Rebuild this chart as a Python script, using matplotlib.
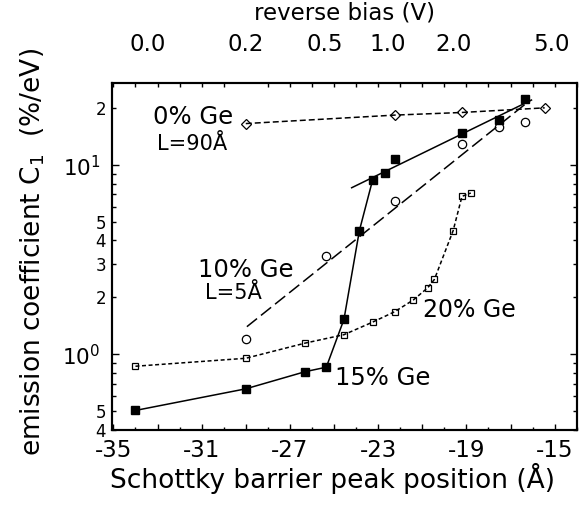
import matplotlib
matplotlib.use("Agg")
import matplotlib.pyplot as plt
from matplotlib.ticker import FixedLocator, FixedFormatter, MultipleLocator

plt.rcParams['font.family'] = ['DejaVu Sans']
plt.rcParams['mathtext.default'] = 'regular'
plt.rcParams['axes.unicode_minus'] = False

# ---- data ----
x0 = [-29.0, -22.25, -19.2, -15.45]          # 0% Ge (diamonds)
y0 = [16.6, 18.4, 19.0, 20.1]

x10 = [-29.0, -25.35, -22.25, -19.2, -17.5, -16.35]   # 10% Ge (circles)
y10 = [1.20, 3.30, 6.45, 12.9, 16.0, 17.0]
fit10_x = [-28.95, -16.1]
fit10_y = [1.40, 22.1]

x15 = [-34.0, -29.0, -26.3, -25.35, -24.55, -23.85, -23.25, -22.7, -22.25, -19.2, -17.5, -16.35]
y15 = [0.505, 0.657, 0.81, 0.855, 1.53, 4.51, 8.36, 9.07, 10.8, 14.8, 17.3, 22.5]
n15_line = 7
fit15_x = [-24.2, -16.05]
fit15_y = [7.6, 22.1]

x20 = [-34.0, -29.0, -26.3, -24.55, -23.25, -22.25, -21.4, -20.75, -20.45, -19.6, -19.2, -18.8]
y20 = [0.865, 0.953, 1.147, 1.27, 1.48, 1.68, 1.94, 2.25, 2.49, 4.51, 6.84, 7.13]

xtick_vals = [-35, -33, -31, -29, -27, -25, -23, -21, -19, -17, -15]
xtick_labels = ['-35', '', '-31', '', '-27', '', '-23', '', '-19', '', '-15']
top_tick_pos = [-33.45, -29.0, -25.4, -22.55, -19.6, -15.15]
top_tick_labels = ['0.0', '0.2', '0.5', '1.0', '2.0', '5.0']
ymajor_vals = [1, 10]
ymajor_labels = ['$10^{0}$', '$10^{1}$']
yminor_vals = [0.4, 0.5, 0.6, 0.7, 0.8, 0.9, 2, 3, 4, 5, 6, 7, 8, 9, 20]
yminor_labels = ['4', '5', '', '', '', '', '2', '3', '4', '5', '', '', '', '', '2']

W, H = 580, 508
fig = plt.figure(figsize=(W / 100, H / 100), dpi=100)
ax = fig.add_axes([112.3 / W, 1 - 430 / H, (576.7 - 112.3) / W, (430 - 82.7) / H])

lw = 1.1
ax.plot(x0, y0, color='black', lw=lw, dashes=(3.9, 2.0), marker='D', ms=5,
        mfc='none', mec='black', mew=0.9)
ax.plot(x10, y10, ls='none', marker='o', ms=6, mfc='none', mec='black', mew=0.9)
ax.plot(fit10_x, fit10_y, color='black', lw=lw, dashes=(8.5, 3.3))
ax.plot(x15[:n15_line], y15[:n15_line], color='black', lw=lw)
ax.plot(x15, y15, ls='none', marker='s', ms=6, mfc='black', mec='black')
ax.plot(fit15_x, fit15_y, color='black', lw=lw)
ax.plot(x20, y20, color='black', lw=lw, dashes=(2.6, 1.7), marker='s', ms=5,
        mfc='none', mec='black', mew=0.9)

ax.set_yscale('log')
ax.set_xlim(-35.05, -14.0)
ax.set_ylim(0.398, 27.3)

ax.xaxis.set_major_locator(FixedLocator(xtick_vals))
ax.xaxis.set_major_formatter(FixedFormatter(xtick_labels))
ax.xaxis.set_minor_locator(MultipleLocator(1))
ax.yaxis.set_major_locator(FixedLocator(ymajor_vals))
ax.yaxis.set_major_formatter(FixedFormatter(ymajor_labels))
ax.yaxis.set_minor_locator(FixedLocator(yminor_vals))
ax.yaxis.set_minor_formatter(FixedFormatter(yminor_labels))

ax.tick_params(axis='x', which='major', direction='in', length=4.5, width=1,
               labelsize=16.5, pad=6.5, top=False)
ax.tick_params(axis='x', which='minor', direction='in', length=2.5, width=1, top=False)
ax.tick_params(axis='y', which='major', direction='in', length=5, width=1,
               labelsize=15.5, pad=8.5, right=True)
ax.tick_params(axis='y', which='minor', direction='in', length=3, width=1,
               labelsize=12, pad=4.5, right=True)
for s in ax.spines.values():
    s.set_linewidth(1.5)

ax2 = ax.twiny()
ax2.set_xlim(ax.get_xlim())
ax2.xaxis.set_major_locator(FixedLocator(top_tick_pos))
ax2.xaxis.set_major_formatter(FixedFormatter(top_tick_labels))
ax2.xaxis.set_minor_locator(MultipleLocator(1))
ax2.tick_params(axis='x', which='major', length=0, labelsize=16.5, pad=19.5)
ax2.tick_params(axis='x', which='minor', direction='in', length=3, width=1)
for s in ax2.spines.values():
    s.set_linewidth(1.5)

ax.text(-33.19, 16.6, '0% Ge', fontsize=17.5, ha='left', va='baseline')
ax.text(-33.03, 12.1, 'L=90Å', fontsize=15, ha='left', va='baseline')
ax.text(-31.15, 2.57, '10% Ge', fontsize=17.5, ha='left', va='baseline')
ax.text(-30.85, 1.95, 'L=5Å', fontsize=15, ha='left', va='baseline')
ax.text(-20.96, 1.566, '20% Ge', fontsize=17, ha='left', va='baseline')
ax.text(-24.96, 0.692, '15% Ge', fontsize=17.5, ha='left', va='baseline')

fig.text(333 / W, 1 - 488 / H, 'Schottky barrier peak position (Å)', fontsize=19,
         ha='center', va='baseline')
fig.text(345 / W, 1 - 20 / H, 'reverse bias (V)', fontsize=16.5,
         ha='center', va='baseline')
fig.text(33 / W, 1 - 252 / H, 'emission coefficient C$_1$  (%/eV)', fontsize=19,
         rotation=90, ha='center', va='center')

fig.savefig('out.png', dpi=100)
